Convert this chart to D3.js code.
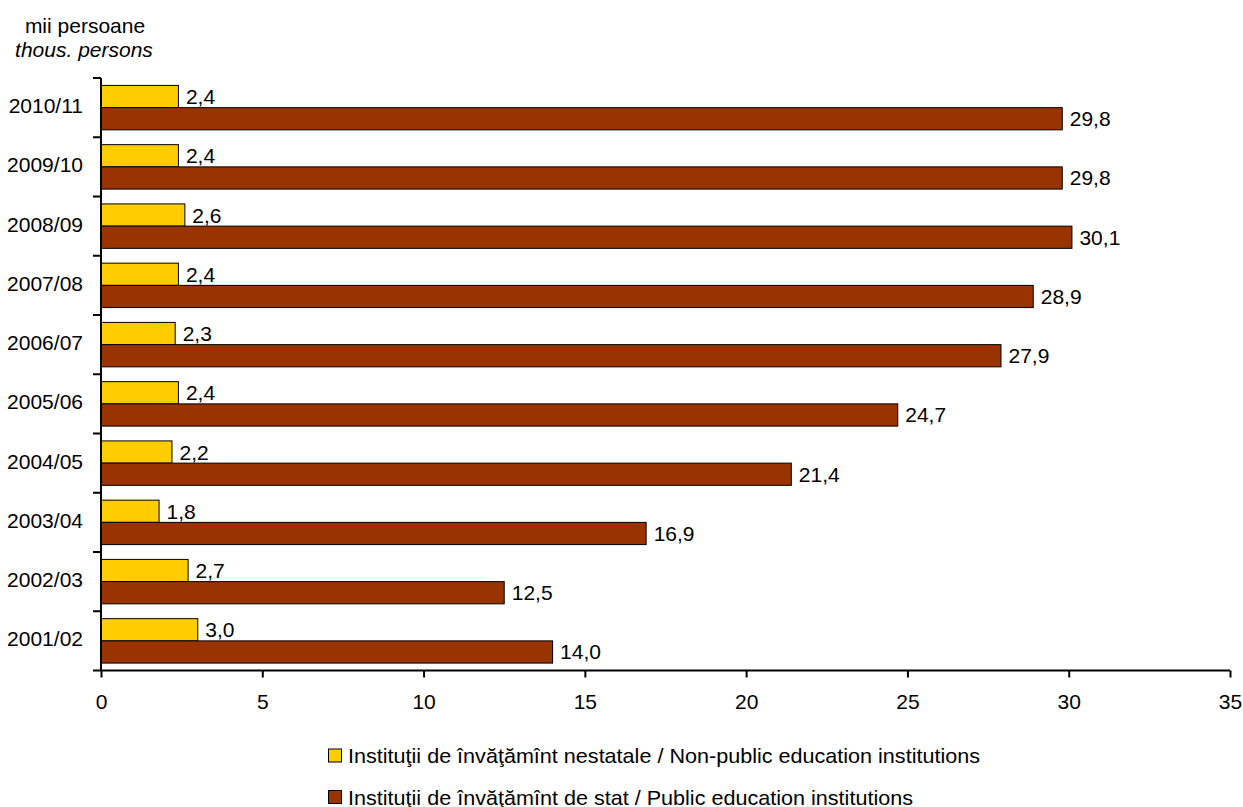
<!DOCTYPE html>
<html><head><meta charset="utf-8">
<script src="https://cdn.jsdelivr.net/npm/d3@7"></script>
<style>body{margin:0;background:#fff}svg{font-family:"Liberation Sans",Arial,sans-serif}</style>
</head><body><svg id="c" width="1243" height="807"></svg>
<script>
const categories = ["2010/11","2009/10","2008/09","2007/08","2006/07","2005/06","2004/05","2003/04","2002/03","2001/02"];
const nonPublic = [2.4,2.4,2.6,2.4,2.3,2.4,2.2,1.8,2.7,3.0];
const publicInst = [29.8,29.8,30.1,28.9,27.9,24.7,21.4,16.9,12.5,14.0];
const xTicks = [0,5,10,15,20,25,30,35];
const seriesNames = ["Instituţii de învăţămînt nestatale / Non-public education institutions","Instituţii de învăţămînt de stat / Public education institutions"];
const colors = ["#FFCC00","#993300"];

const FS = 21;
const svg = d3.select("#c");
const mLeft = 101, mRight = 1230, mTop = 78, mBottom = 670.5;
const x = d3.scaleLinear().domain([0,35]).range([mLeft,mRight]);
const y = d3.scaleBand().domain(categories).range([mTop,mBottom]).paddingInner(0.25).paddingOuter(0.125);
const sub = d3.scaleBand().domain([0,1]).range([0,y.bandwidth()]);

const fmt = v => d3.format(".1f")(v).replace(".",",");

const g = svg.append("g");
[nonPublic, publicInst].forEach((vals,si)=>{
  g.selectAll(null).data(categories).enter().append("rect")
    .attr("x",x(0)).attr("y",d=>y(d)+sub(si))
    .attr("width",(d,i)=>x(vals[i])-x(0)).attr("height",sub.bandwidth())
    .attr("fill",colors[si]).attr("stroke","#000").attr("stroke-width",1);
  g.selectAll(null).data(categories).enter().append("text")
    .attr("x",(d,i)=>x(vals[i])+7.5).attr("y",d=>y(d)+sub(si)+sub.bandwidth()/2+7.5)
    .attr("font-size",FS).text((d,i)=>fmt(vals[i]));
});

// x axis
const xa = svg.append("g").attr("transform",`translate(0,${mBottom})`)
  .call(d3.axisBottom(x).tickValues(xTicks).tickSize(7).tickFormat(d=>d));
xa.select(".domain").attr("stroke","#000").attr("stroke-width",2).attr("d",`M${mLeft},0H${mRight}`);
xa.selectAll(".tick line").attr("stroke-width",2).attr("stroke","#000");
xa.selectAll(".tick text").attr("font-size",FS).attr("font-family","Liberation Sans, Arial").attr("y",38).attr("dy",null).attr("fill","#000");

// y axis
const step = y.step();
const bounds = d3.range(categories.length+1).map(i=>mTop+i*step);
svg.append("line").attr("x1",mLeft).attr("x2",mLeft).attr("y1",mTop).attr("y2",mBottom).attr("stroke","#000").attr("stroke-width",2);
svg.selectAll(null).data(bounds).enter().append("line")
  .attr("x1",mLeft-8).attr("x2",mLeft).attr("y1",d=>d).attr("y2",d=>d).attr("stroke","#000").attr("stroke-width",2);
svg.selectAll(null).data(categories).enter().append("text")
  .attr("x",83).attr("y",d=>y(d)+y.bandwidth()/2+5.5)
  .attr("text-anchor","end").attr("font-size",FS).text(d=>d);

// unit title
svg.append("text").attr("x",85).attr("y",33).attr("text-anchor","middle").attr("font-size",FS).text("mii persoane");
svg.append("text").attr("x",84).attr("y",57).attr("text-anchor","middle").attr("font-size",FS).attr("font-style","italic").text("thous. persons");

// legend
const leg = svg.append("g");
const legW = [632, 565];
seriesNames.forEach((n,i)=>{
  const ly = 755.5 + i*41.5;
  leg.append("rect").attr("x",328.5).attr("y",ly-6.5).attr("width",13).attr("height",13).attr("fill",colors[i]).attr("stroke","#000").attr("stroke-width",1);
  leg.append("text").attr("x",348).attr("y",ly+7.5).attr("font-size",FS)
    .attr("textLength",legW[i]).attr("lengthAdjust","spacingAndGlyphs").text(n);
});
</script></body></html>
